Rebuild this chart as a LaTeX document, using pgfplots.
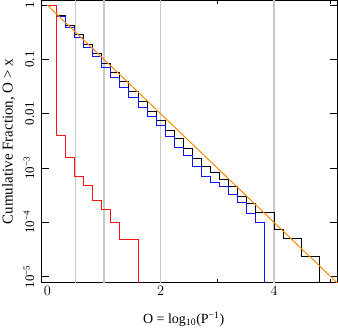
\documentclass[border=0pt]{standalone}
\usepackage{fontspec}
\setmainfont{Liberation Serif}
\newfontfamily\helv{Liberation Sans}
\usepackage{pgfplots}
\pgfplotsset{compat=1.18}
\usetikzlibrary{calc}
\definecolor{gline}{HTML}{C8C8C8}
\definecolor{orng}{HTML}{FF8C00}
\definecolor{cblue}{HTML}{1414FF}
\definecolor{cred}{HTML}{FF1414}

% cumulative fractions, one step per bin of width 0.16
\pgfplotstableread{
x     y
0     1
0.16  0.638
0.32  0.423
0.48  0.285
0.64  0.191
0.80  0.127
0.96  0.0855
1.12  0.0577
1.28  0.0388
1.44  0.0257
1.60  0.0169
1.76  0.0108
1.92  0.00737
2.08  0.00499
2.24  0.00344
2.40  0.00230
2.56  0.00148
2.72  0.00106
2.88  0.000841
3.04  0.000622
3.20  0.000449
3.36  0.000294
3.52  0.000220
3.68  0.000150
3.84  0.000150
4.00  0.0000740
4.16  0.0000499
4.32  0.0000499
4.48  0.0000239
4.64  0.0000239
4.80  1e-7
}\blackdata
\pgfplotstableread{
x     y
0     1
0.16  0.619
0.32  0.394
0.48  0.254
0.64  0.1685
0.80  0.1135
0.96  0.0722
1.12  0.0472
1.28  0.0301
1.44  0.0202
1.60  0.01324
1.76  0.00891
1.92  0.00604
2.08  0.00374
2.24  0.00243
2.40  0.00171
2.56  0.00107
2.72  0.000709
2.88  0.000536
3.04  0.000449
3.20  0.000322
3.36  0.000230
3.52  0.000148
3.68  0.000101
3.84  1e-7
}\bluedata
\pgfplotstableread{
x     y
0     1
0.16  0.00398
0.32  0.00155
0.48  0.00070
0.64  0.000472
0.80  0.000253
0.96  0.000173
1.12  0.0000984
1.28  0.0000491
1.44  0.0000491
1.60  1e-7
}\reddata

\begin{document}
\begin{tikzpicture}
\begin{axis}[
  scale only axis, width=295.8bp, height=282bp,
  xmin=-0.1, xmax=5.12,
  ymode=log, ymin=7.8e-6, ymax=1.22,
  xtick={0,2,4}, minor xtick={1,3,5},
  ytick={1,0.1,0.01,0.001,0.0001,0.00001},
  yticklabels={1,0.1,0.01,10\textsuperscript{−3},10\textsuperscript{−4},10\textsuperscript{−5}},
  major tick length=7bp, minor tick length=4bp,
  major x tick style={draw=none},
  tick style={black, line width=0.8bp},
  axis line style={line width=1bp},
  xticklabel style={font=\helv\fontsize{14bp}{16bp}\selectfont},
  yticklabel style={rotate=90, anchor=south, font=\fontsize{13bp}{15bp}\selectfont},
  yticklabel shift=4bp,
  xlabel={O = log\textsubscript{10}(P\textsuperscript{−1})},
  ylabel={Cumulative Fraction, O > x},
  xlabel style={font=\fontsize{14bp}{16bp}\selectfont, at={(axis description cs:0.48,0)}, anchor=center, yshift=-37bp},
  ylabel style={font=\fontsize{15bp}{17bp}\selectfont, at={(axis description cs:-0.112,0.5)}, anchor=center},
]
\addplot[gline, line width=1.4bp, forget plot] coordinates {(0.5,1e-7) (0.5,10)};
\addplot[gline, line width=1.4bp, forget plot] coordinates {(1,1e-7) (1,10)};
\addplot[gline, line width=1.4bp, forget plot] coordinates {(2,1e-7) (2,10)};
\addplot[gline, line width=1.4bp, forget plot] coordinates {(4,1e-7) (4,10)};
\addplot[black, line width=1bp, const plot mark left] table[x=x, y=y] {\blackdata};
\addplot[cblue, line width=1bp, const plot mark left] table[x=x, y=y] {\bluedata};
\addplot[cred, line width=1bp, const plot mark left] table[x=x, y=y] {\reddata};
\addplot[orng, line width=1bp] coordinates {(0,1) (5.2,6.31e-6)};
\end{axis}
\pgfresetboundingbox
\useasboundingbox ($(current axis.south west)+(-41.7bp,-50bp)$) rectangle ($(current axis.north east)+(0.5bp,0.5bp)$);
\end{tikzpicture}
\end{document}
